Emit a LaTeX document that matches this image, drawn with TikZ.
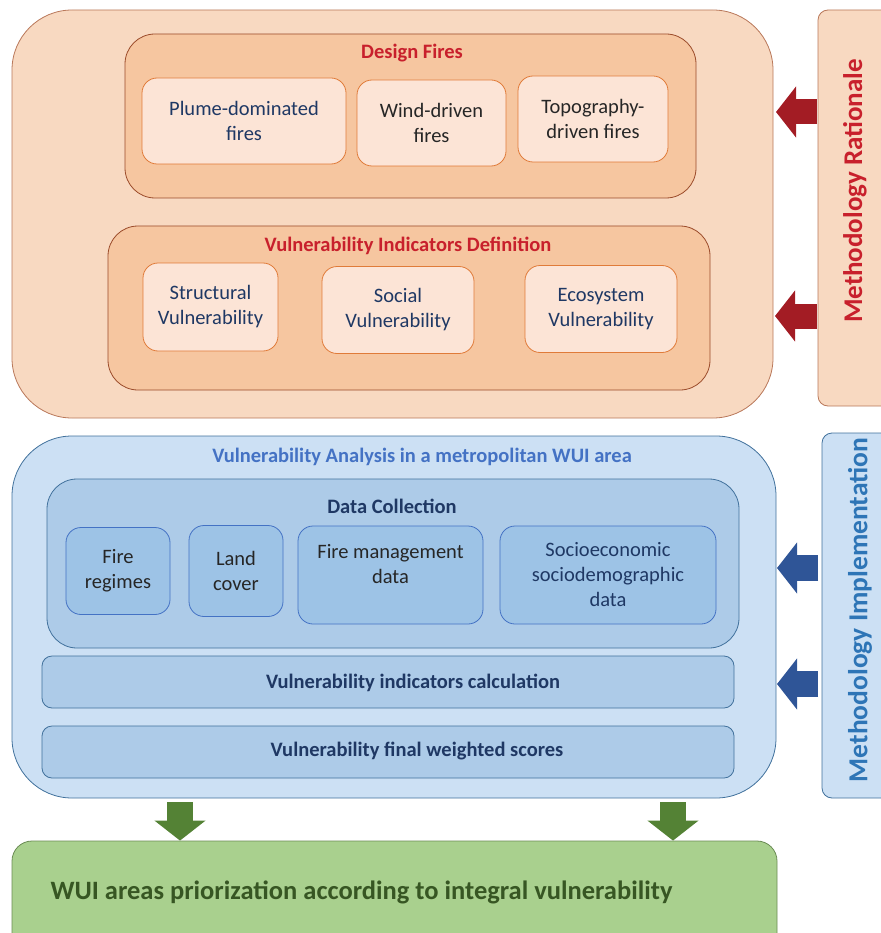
\documentclass[tikz,border=0pt]{standalone}
\usepackage{fontspec}
\setmainfont{Carlito}
\usetikzlibrary{arrows.meta,positioning}

\definecolor{peachout}{HTML}{F8D9C1}
\definecolor{peachmid}{HTML}{F6C6A0}
\definecolor{peachin}{HTML}{FCE4D6}
\definecolor{brownline}{HTML}{B9785A}
\definecolor{darkbrown}{HTML}{9B4B2A}
\definecolor{orangeline}{HTML}{E07B39}
\definecolor{redtxt}{HTML}{C8202C}
\definecolor{redarrow}{HTML}{A31C24}
\definecolor{blueout}{HTML}{CCE0F4}
\definecolor{bluemid}{HTML}{ADCBE8}
\definecolor{bluein}{HTML}{9DC3E6}
\definecolor{blueline}{HTML}{41719C}
\definecolor{bluetitle}{HTML}{4472C4}
\definecolor{navy}{HTML}{1F3864}
\definecolor{bluetxt}{HTML}{2E75B6}
\definecolor{bluearrow}{HTML}{2F5597}
\definecolor{greenbox}{HTML}{A9D08E}
\definecolor{greenline}{HTML}{6B8C55}
\definecolor{greentxt}{HTML}{375623}
\definecolor{greenarrow}{HTML}{548235}
\definecolor{graytxt}{HTML}{262626}

\tikzset{
  box/.style={draw, line width=0.8pt, minimum width=#1},
  txt/.style={align=center, font=\fontsize{20.5}{25}\selectfont},
  toptitle/.style={font=\fontsize{20.5}{24}\selectfont\bfseries},
  sidetxt/.style={rotate=90, font=\fontsize{#1}{30}\selectfont\bfseries},
  blockarrow/.style={line width=#1, -{Triangle[length=20pt,width=50pt]}},
}

\begin{document}
\begin{tikzpicture}[x=1pt,y=-1pt]
\useasboundingbox (0,0) rectangle (880,933);

% methodology rationale
\node[box=761, minimum height=408, rounded corners=60, draw=brownline, fill=peachout] (rationale) at (392.5,214) {};
\node[box=571, minimum height=164, rounded corners=30, draw=darkbrown, fill=peachmid] (design) at (410.5,116) {};
\node[toptitle, text=redtxt] (designT) at (412,53) {Design Fires};
\node[box=204, minimum height=86, rounded corners=15, draw=orangeline, fill=peachin, txt, text=navy] (plume) at (244,121) {Plume-dominated\\fires};
\node[box=149, minimum height=86, rounded corners=15, draw=orangeline, fill=peachin, txt, text=graytxt] (wind) at (431.5,123) {Wind-driven\\fires};
\node[box=150, minimum height=86, rounded corners=15, draw=orangeline, fill=peachin, txt, text=graytxt] (topo) at (593,119) {Topography-\\driven fires};

\node[box=602, minimum height=164, rounded corners=30, draw=darkbrown, fill=peachmid] (indic) at (409,308) {};
\node[toptitle, text=redtxt] (indicT) at (408,246) {Vulnerability Indicators Definition};
\node[box=135, minimum height=88, rounded corners=15, draw=orangeline, fill=peachin, txt, text=navy] (struct) at (210.5,307) {Structural\\Vulnerability};
\node[box=152, minimum height=87, rounded corners=15, draw=orangeline, fill=peachin, txt, text=navy] (social) at (398,310) {Social\\Vulnerability};
\node[box=152, minimum height=87, rounded corners=15, draw=orangeline, fill=peachin, txt, text=navy] (eco) at (601,309) {Ecosystem\\Vulnerability};

\node[box=74, minimum height=396, rounded corners=10, draw=brownline, fill=peachout] (ratside) at (855,208) {};
\node[sidetxt=27, text=redtxt] (ratsideT) at (855,191) {Methodology Rationale};

\coordinate (r1a) at (817,112);
\coordinate (r1b) at (776,112);
\coordinate (r2a) at (817,316);
\coordinate (r2b) at (775,316);
\draw[blockarrow=25pt, redarrow] (r1a) -- (r1b);
\draw[blockarrow=25pt, redarrow] (r2a) -- (r2b);

% methodology implementation
\node[box=764, minimum height=362, rounded corners=60, draw=blueline, fill=blueout] (analysis) at (394,617) {};
\node[toptitle, text=bluetitle] (analysisT) at (422,457) {Vulnerability Analysis in a metropolitan WUI area};
\node[box=692, minimum height=169, rounded corners=30, draw=blueline, fill=bluemid] (datacol) at (393,563.5) {};
\node[toptitle, text=navy] (datacolT) at (392,506) {Data Collection};
\node[box=104, minimum height=87, rounded corners=15, draw=bluetitle, fill=bluein, txt, text=graytxt] (regimes) at (118,571) {Fire\\regimes};
\node[box=94, minimum height=91, rounded corners=15, draw=bluetitle, fill=bluein, txt, text=graytxt] (land) at (236,571) {Land\\cover};
\node[box=185, minimum height=98, rounded corners=15, draw=bluetitle, fill=bluein, txt, text=graytxt] (firemgmt) at (390.5,575) {Fire management\\data\\[-2pt]\phantom{x}};
\node[box=216, minimum height=98, rounded corners=15, draw=bluetitle, fill=bluein, txt, text=navy] (socio) at (608,575) {Socioeconomic\\sociodemographic\\data};

\node[box=692, minimum height=52, rounded corners=10, draw=blueline, fill=bluemid] (calc) at (388,682) {};
\node[toptitle, text=navy] (calcT) at (413,683) {Vulnerability indicators calculation};
\node[box=692, minimum height=52, rounded corners=10, draw=blueline, fill=bluemid] (scores) at (388,752) {};
\node[toptitle, text=navy] (scoresT) at (417,751) {Vulnerability final weighted scores};

\node[box=70, minimum height=365, rounded corners=10, draw=blueline, fill=blueout] (implside) at (857,615.5) {};
\node[sidetxt=27.5, text=bluetxt] (implsideT) at (860,610) {Methodology Implementation};

\coordinate (b1a) at (818,568);
\coordinate (b1b) at (777,568);
\coordinate (b2a) at (818,684);
\coordinate (b2b) at (777,684);
\draw[blockarrow=26pt, bluearrow] (b1a) -- (b1b);
\draw[blockarrow=26pt, bluearrow] (b2a) -- (b2b);

% result
\node[box=765, minimum height=112, rounded corners=20, draw=greenline, fill=greenbox] (result) at (394.5,897) {};
\node[anchor=west, font=\fontsize{26.5}{30}\selectfont\bfseries, text=greentxt] (resultT) at (47,892) {WUI areas priorization according to integral vulnerability};

\coordinate (g1a) at (180,802);
\coordinate (g2a) at (673,802);
\draw[blockarrow=26pt, greenarrow] (g1a) -- (g1a |- result.north);
\draw[blockarrow=26pt, greenarrow] (g2a) -- (g2a |- result.north);
\end{tikzpicture}
\end{document}
